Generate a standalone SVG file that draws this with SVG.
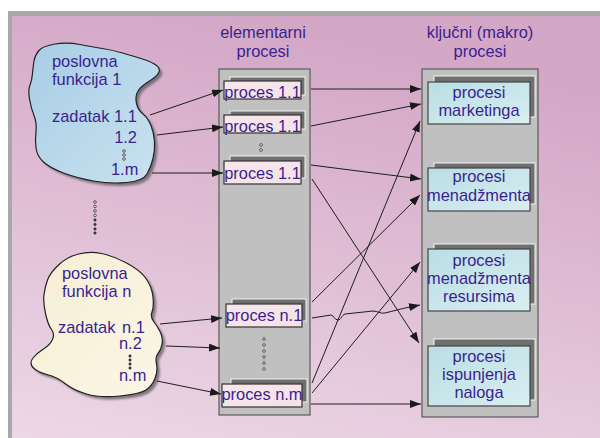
<svg xmlns="http://www.w3.org/2000/svg" width="600" height="438" viewBox="0 0 600 438">
<defs>
<linearGradient id="bg" x1="0.3" y1="0" x2="0" y2="1">
<stop offset="0" stop-color="#d4a7c7"/>
<stop offset="1" stop-color="#edd8e6"/>
</linearGradient>
<linearGradient id="blue" x1="0" y1="0" x2="1" y2="1">
<stop offset="0" stop-color="#a8cde5"/>
<stop offset="1" stop-color="#c9e2ef"/>
</linearGradient>
<linearGradient id="beige" x1="0" y1="0" x2="1" y2="1">
<stop offset="0" stop-color="#f6efd4"/>
<stop offset="1" stop-color="#fbf6e6"/>
</linearGradient>
<linearGradient id="pinkbox" x1="0" y1="0" x2="1" y2="1">
<stop offset="0" stop-color="#f8e6ec"/>
<stop offset="1" stop-color="#f3e2e6"/>
</linearGradient>
<linearGradient id="cyanbox" x1="0" y1="0" x2="1" y2="1">
<stop offset="0" stop-color="#b9dee4"/>
<stop offset="1" stop-color="#d9eef2"/>
</linearGradient>
<marker id="arr" markerUnits="userSpaceOnUse" markerWidth="12" markerHeight="9" refX="11" refY="4" orient="auto">
<path d="M0,0 L11,4 L0,8 z" fill="#1a1a1a"/>
</marker>
<filter id="blur" x="-10%" y="-10%" width="120%" height="120%"><feGaussianBlur stdDeviation="1.2"/></filter>
</defs>
<style>
text{font-family:"Liberation Sans",Arial,sans-serif;font-size:16.4px;fill:#3a1f8f}
.mid{text-anchor:middle}
.col{fill:#c0c0c0;stroke:#5a5a5a;stroke-width:1.2}
.sh{fill:#6f6f6f;stroke:#f4f4f4;stroke-width:1}
.eb{fill:url(#pinkbox);stroke:#333;stroke-width:1.2}
.kb{fill:url(#cyanbox);stroke:#444;stroke-width:1.2}
.cl{stroke:#222;stroke-width:1.2}
.csh{fill:#555;opacity:0.7;filter:url(#blur)}
.dot{fill:#eee;stroke:#333;stroke-width:0.8}
.ddot{fill:#444;stroke:#222;stroke-width:0.6}
.ln{fill:none;stroke:#1e1e1e;stroke-width:1;marker-end:url(#arr)}
</style>

<g id="background">
<rect x="0" y="0" width="600" height="438" fill="#ffffff"/>
<rect x="8" y="11" width="592" height="427" fill="url(#bg)"/>
<rect x="8" y="11" width="592" height="5" fill="#a8a8a8"/>
<rect x="8" y="11" width="4" height="427" fill="#a8a8a8"/>
</g>

<g id="cloud1">
<path class="csh" transform="translate(3,3)" d="M34,61 Q35,55 39,50.5 Q43,46 55,44 Q67,42 80,44.5 Q93,47 102.5,48.5 Q112,50 122.5,53 Q133,56 142.5,59 Q152,62 156.5,65.5 Q161,69 158.5,73 Q156,77 148,82 Q140,87 137.5,92 Q135,97 136.5,103.5 Q138,110 143,114 Q148,118 151,125.5 Q154,133 154.5,141.5 Q155,150 153,158.5 Q151,167 147,174 Q143,181 126.5,182.5 Q110,184 93.5,181 Q77,178 63.5,173 Q50,168 43.5,162 Q37,156 36,148 Q35,140 36,131.5 Q37,123 34,115.5 Q31,108 29.5,99 Q28,90 30,85 Q32,80 32.5,73.5 Q33,67 34,61 Z"/>
<path fill="url(#blue)" class="cl" d="M34,61 Q35,55 39,50.5 Q43,46 55,44 Q67,42 80,44.5 Q93,47 102.5,48.5 Q112,50 122.5,53 Q133,56 142.5,59 Q152,62 156.5,65.5 Q161,69 158.5,73 Q156,77 148,82 Q140,87 137.5,92 Q135,97 136.5,103.5 Q138,110 143,114 Q148,118 151,125.5 Q154,133 154.5,141.5 Q155,150 153,158.5 Q151,167 147,174 Q143,181 126.5,182.5 Q110,184 93.5,181 Q77,178 63.5,173 Q50,168 43.5,162 Q37,156 36,148 Q35,140 36,131.5 Q37,123 34,115.5 Q31,108 29.5,99 Q28,90 30,85 Q32,80 32.5,73.5 Q33,67 34,61 Z"/>
<text x="52" y="67">poslovna</text>
<text x="52" y="85">funkcija 1</text>
<text x="52" y="122">zadatak 1.1</text>
<text x="137" y="143" text-anchor="end">1.2</text>
<circle class="dot" cx="124" cy="151" r="1.3"/>
<circle class="dot" cx="124" cy="155" r="1.3"/>
<circle class="dot" cx="124" cy="159" r="1.3"/>
<text x="111" y="175">1.m</text>
</g>

<g id="dots-between">
<circle class="dot" cx="95" cy="202" r="1.3"/>
<circle class="dot" cx="95" cy="206.5" r="1.3"/>
<circle class="dot" cx="95" cy="211" r="1.3"/>
<circle class="dot" cx="95" cy="215.5" r="1.3"/>
<circle class="ddot" cx="95" cy="220" r="1.2"/>
<circle class="ddot" cx="95" cy="224.5" r="1.2"/>
<circle class="ddot" cx="95" cy="229" r="1.2"/>
<circle class="ddot" cx="95" cy="233" r="1.2"/>
</g>

<g id="cloud2">
<path class="csh" transform="translate(3,3)" d="M47.5,280 Q50,273 58.5,265 Q67,257 78.5,254 Q90,251 101.5,253.5 Q113,256 126.5,263 Q140,270 146,278.5 Q152,287 153,297 Q154,307 152,312 Q150,317 154,322 Q158,327 160.5,332.5 Q163,338 162,344 Q161,350 158,353.5 Q155,357 156.5,364 Q158,371 155,378.5 Q152,386 146,390 Q140,394 120,396 Q100,398 86.5,394 Q73,390 65,383.5 Q57,377 47,374.5 Q37,372 33,367.5 Q29,363 33,358 Q37,353 43.5,349 Q50,345 52.5,339.5 Q55,334 51.5,329.5 Q48,325 45.5,313.5 Q43,302 44,294.5 Q45,287 47.5,280 Z"/>
<path fill="url(#beige)" class="cl" d="M47.5,280 Q50,273 58.5,265 Q67,257 78.5,254 Q90,251 101.5,253.5 Q113,256 126.5,263 Q140,270 146,278.5 Q152,287 153,297 Q154,307 152,312 Q150,317 154,322 Q158,327 160.5,332.5 Q163,338 162,344 Q161,350 158,353.5 Q155,357 156.5,364 Q158,371 155,378.5 Q152,386 146,390 Q140,394 120,396 Q100,398 86.5,394 Q73,390 65,383.5 Q57,377 47,374.5 Q37,372 33,367.5 Q29,363 33,358 Q37,353 43.5,349 Q50,345 52.5,339.5 Q55,334 51.5,329.5 Q48,325 45.5,313.5 Q43,302 44,294.5 Q45,287 47.5,280 Z"/>
<text x="62" y="279">poslovna</text>
<text x="62" y="297">funkcija n</text>
<text x="58" y="333">zadatak <tspan x="122">n.1</tspan></text>
<text x="119" y="349">n.2</text>
<circle class="ddot" cx="130" cy="356" r="1.2"/>
<circle class="ddot" cx="130" cy="360" r="1.2"/>
<circle class="ddot" cx="130" cy="364" r="1.2"/>
<circle class="ddot" cx="130" cy="368" r="1.2"/>
<text x="119" y="381">n.m</text>
</g>

<g id="elementarni-procesi">
<text class="mid" x="263" y="38">elementarni</text>
<text class="mid" x="263" y="57">procesi</text>
<rect class="col" x="219" y="69" width="91" height="346"/>
</g>

<g id="ep1">
<rect class="sh" x="230" y="77" width="75" height="18"/>
<rect class="eb" x="224" y="81" width="77" height="18"/>
<text class="mid" x="262.5" y="98">proces 1.1</text>
</g>
<g id="ep2">
<rect class="sh" x="230" y="111" width="75" height="18"/>
<rect class="eb" x="224" y="115" width="77" height="18"/>
<text class="mid" x="262.5" y="132">proces 1.1</text>
</g>
<g id="ep-dots1">
<circle class="dot" cx="261" cy="145" r="1.4"/>
<circle class="dot" cx="261" cy="150" r="1.4"/>
</g>
<g id="ep3">
<rect class="sh" x="230" y="156" width="75" height="22"/>
<rect class="eb" x="224" y="161" width="77" height="23"/>
<text class="mid" x="262.5" y="179">proces 1.1</text>
</g>
<g id="ep4">
<rect class="sh" x="232" y="299" width="74" height="22"/>
<rect class="eb" x="226" y="304" width="76" height="23"/>
<text class="mid" x="264" y="321">proces n.1</text>
</g>
<g id="ep-dots2">
<circle class="dot" cx="264" cy="339" r="1.3"/>
<circle class="dot" cx="264" cy="345" r="1.3"/>
<circle class="dot" cx="264" cy="351" r="1.3"/>
<circle class="dot" cx="264" cy="357" r="1.3"/>
<circle class="dot" cx="264" cy="363" r="1.3"/>
<circle class="dot" cx="264" cy="369" r="1.3"/>
</g>
<g id="ep5">
<rect class="sh" x="231" y="379" width="76" height="23"/>
<rect class="eb" x="222" y="384" width="80" height="23"/>
<text class="mid" x="262" y="400">proces n.m</text>
</g>

<g id="kljucni-procesi">
<text class="mid" x="480" y="38">ključni (makro)</text>
<text class="mid" x="480" y="57">procesi</text>
<rect class="col" x="422" y="69" width="116" height="348"/>
</g>

<g id="kp1">
<rect class="sh" x="434" y="76" width="101" height="41"/>
<rect class="kb" x="428" y="82" width="102" height="42"/>
<text class="mid" x="479" y="98">procesi</text>
<text class="mid" x="479" y="116">marketinga</text>
</g>
<g id="kp2">
<rect class="sh" x="434" y="163" width="101" height="41"/>
<rect class="kb" x="428" y="168" width="102" height="43"/>
<text class="mid" x="479" y="182">procesi</text>
<text class="mid" x="479" y="200.5">menadžmenta</text>
</g>
<g id="kp3">
<rect class="sh" x="434" y="244" width="101" height="60"/>
<rect class="kb" x="428" y="249" width="102" height="62"/>
<text class="mid" x="479" y="266">procesi</text>
<text class="mid" x="479" y="284">menadžmenta</text>
<text class="mid" x="479" y="302">resursima</text>
</g>
<g id="kp4">
<rect class="sh" x="434" y="339" width="101" height="61"/>
<rect class="kb" x="428" y="346" width="102" height="60"/>
<text class="mid" x="479" y="362">procesi</text>
<text class="mid" x="479" y="380">ispunjenja</text>
<text class="mid" x="479" y="398">naloga</text>
</g>

<g id="connectors">
<line class="ln" x1="150" y1="115" x2="223" y2="90"/>
<line class="ln" x1="157" y1="135" x2="223" y2="127"/>
<line class="ln" x1="152" y1="173" x2="223" y2="173"/>
<line class="ln" x1="160" y1="324" x2="222" y2="318"/>
<line class="ln" x1="166" y1="346" x2="220" y2="348"/>
<line class="ln" x1="157" y1="381" x2="221" y2="394"/>
<line class="ln" x1="311" y1="89" x2="421" y2="89"/>
<line class="ln" x1="311" y1="126" x2="421" y2="104"/>
<line class="ln" x1="311" y1="165" x2="421" y2="179"/>
<line class="ln" x1="312" y1="179" x2="419" y2="343"/>
<line class="ln" x1="312" y1="383" x2="420" y2="121"/>
<line class="ln" x1="312" y1="302" x2="420" y2="195"/>
<line class="ln" x1="312" y1="393" x2="420" y2="262"/>
<path class="ln" d="M312,318 L331,315 C334,315 334,320 338,320 C341,320 342,315 345,314 L373,311 C378,311 380,314 385,313 L405,308 L420,305"/>
<line class="ln" x1="311" y1="404" x2="421" y2="404"/>
</g>
</svg>
